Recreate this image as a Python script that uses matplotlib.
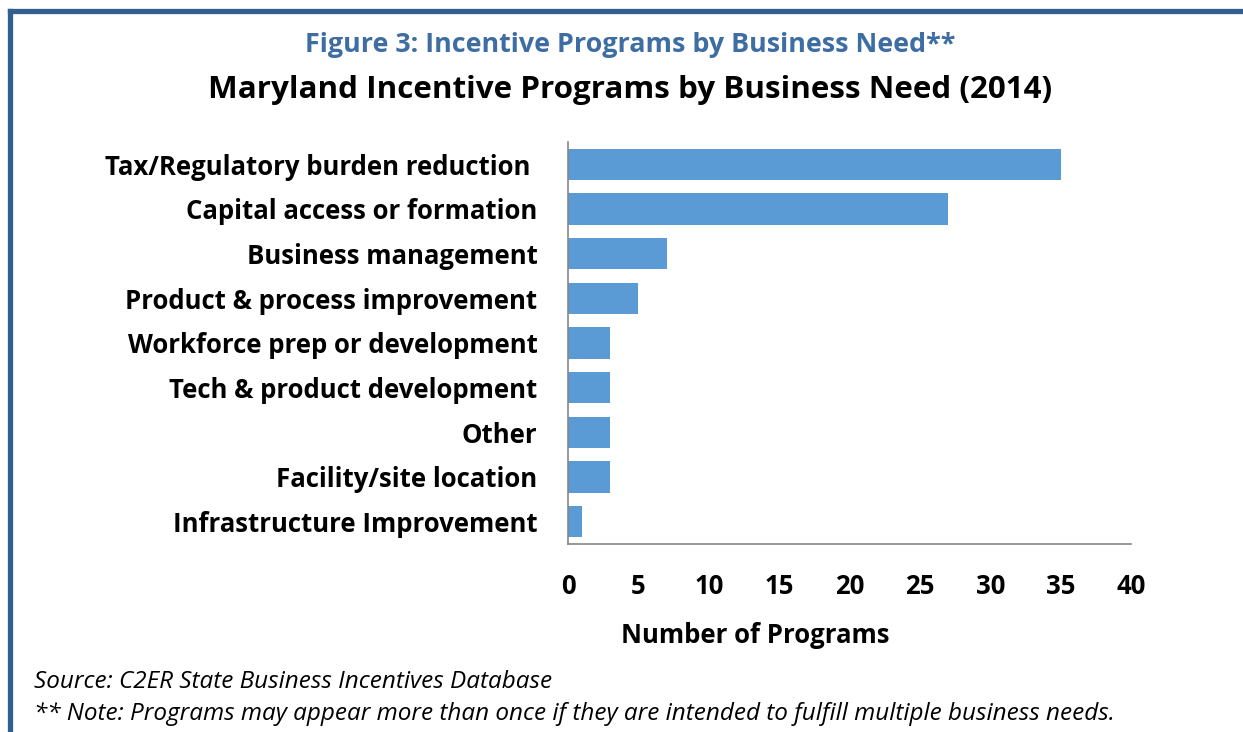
import matplotlib.pyplot as plt
from matplotlib.lines import Line2D

plt.rcParams['font.family'] = ['Open Sans', 'DejaVu Sans']

categories = ['Tax/Regulatory burden reduction ', 'Capital access or formation',
              'Business management', 'Product & process improvement',
              'Workforce prep or development', 'Tech & product development',
              'Other', 'Facility/site location', 'Infrastructure Improvement']
values = [35, 27, 7, 5, 3, 3, 3, 3, 1]
xticks = [0, 5, 10, 15, 20, 25, 30, 35, 40]

fig = plt.figure(figsize=(12.43, 7.32), dpi=100)
ax = fig.add_axes([0.457, 0.257, 0.453, 0.549])

ypos = list(range(len(categories)))
ax.barh(ypos, values, height=0.7, color='#5B9BD5')
ax.set_ylim(len(categories) - 0.5, -0.5)
ax.set_xlim(0, 40)
ax.set_yticks(ypos)
ax.set_yticklabels(categories, fontsize=18.5, fontweight='bold')
ax.set_xticks(xticks)
ax.set_xticklabels([str(t) for t in xticks], fontsize=18.5, fontweight='bold')
ax.tick_params(axis='x', length=0, pad=21)
ax.tick_params(axis='y', length=0, pad=22)
for s in ['top', 'right']:
    ax.spines[s].set_visible(False)
for s in ['left', 'bottom']:
    ax.spines[s].set_color('#868686')
    ax.spines[s].set_linewidth(1.2)
ax.set_xlabel('Number of Programs', fontsize=18.5, fontweight='bold')
ax.xaxis.set_label_coords(0.332, -0.195)

fig.text(0.507, 0.938, 'Figure 3: Incentive Programs by Business Need**', ha='center',
         va='center', fontsize=19.4, fontweight='bold', color='#3E6DA3')
fig.text(0.507, 0.877, 'Maryland Incentive Programs by Business Need (2014)', ha='center',
         va='center', fontsize=22.6, fontweight='bold', color='black')
fig.text(0.027, 0.068, 'Source: C2ER State Business Incentives Database', fontsize=17.5,
         style='italic', va='center')
fig.text(0.027, 0.024, '** Note: Programs may appear more than once if they are intended to fulfill multiple business needs.',
         fontsize=17.5, style='italic', va='center')

# frame around the figure (left and top only visible)
fig.add_artist(Line2D([10.5 / 1243, 10.5 / 1243], [0, 1 - 11 / 732], transform=fig.transFigure,
                      color='#335E90', linewidth=3.8, solid_capstyle='projecting'))
fig.add_artist(Line2D([10.5 / 1243, 1], [1 - 11 / 732, 1 - 11 / 732], transform=fig.transFigure,
                      color='#335E90', linewidth=3.8, solid_capstyle='projecting'))

fig.savefig('out.png', dpi=100)
